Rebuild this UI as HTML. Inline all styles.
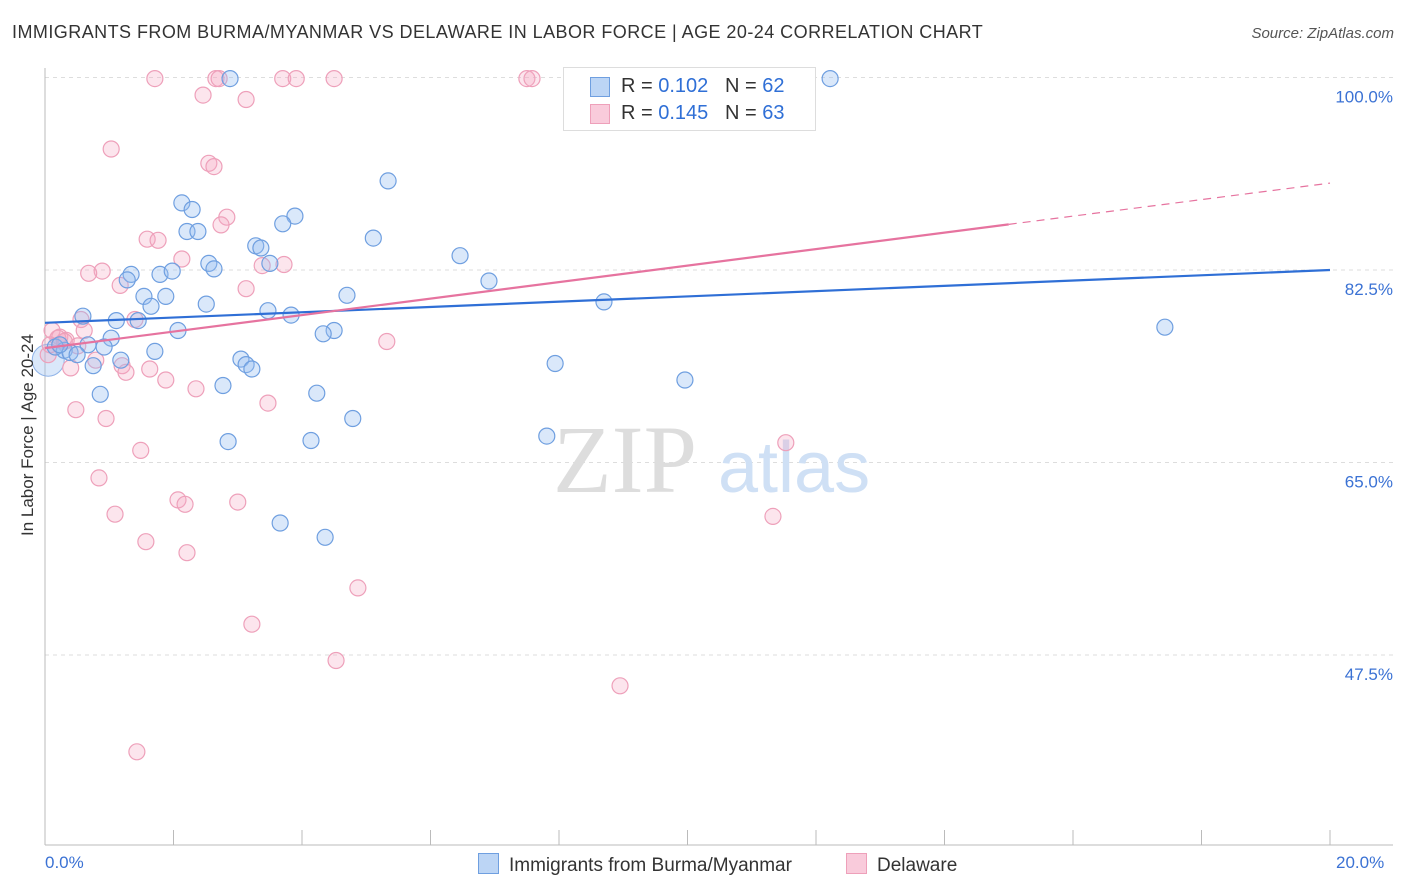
<!DOCTYPE html>
<html><head><meta charset="utf-8">
<style>
body{margin:0;background:#fff;font-family:"Liberation Sans",sans-serif;}
#wrap{position:relative;width:1406px;height:892px;overflow:hidden;}
.t{position:absolute;white-space:nowrap;}
</style></head>
<body>
<div id="wrap">
<div class="t" style="left:12px;top:22px;font-size:18px;letter-spacing:0.45px;color:#333;">IMMIGRANTS FROM BURMA/MYANMAR VS DELAWARE IN LABOR FORCE | AGE 20-24 CORRELATION CHART</div>
<div class="t" style="right:12px;top:25px;font-size:15px;color:#555;font-style:italic;">Source: ZipAtlas.com</div>
<svg id="svg" width="1406" height="892" style="position:absolute;left:0;top:0"></svg>
</div>
<script>
const blueX=[12.22,2.88,5.34,2.13,2.29,3.89,3.70,2.21,2.38,5.11,3.28,3.36,6.46,3.50,2.55,2.63,1.34,1.79,1.98,1.28,6.91,1.54,1.88,4.70,8.70,2.51,1.65,3.47,3.83,0.59,1.11,1.45,2.07,4.50,4.33,1.03,17.43,0.67,0.92,0.30,0.39,0.50,1.71,3.05,1.18,3.13,3.22,0.75,7.94,9.96,2.77,0.86,4.23,4.79,7.81,2.85,4.14,3.66,4.36,0.16,0.23];
const blueY=[99.9,99.9,90.6,88.6,88.0,87.4,86.7,86.0,86.0,85.4,84.7,84.5,83.8,83.1,83.1,82.6,82.1,82.1,82.4,81.6,81.5,80.1,80.1,80.2,79.6,79.4,79.2,78.8,78.4,78.3,77.9,77.9,77.0,77.0,76.7,76.3,77.3,75.7,75.5,75.2,75.0,74.8,75.1,74.4,74.3,73.9,73.5,73.8,74.0,72.5,72.0,71.2,71.3,69.0,67.4,66.9,67.0,59.5,58.2,75.5,75.7];
const pinkX=[1.71,2.66,2.71,3.70,3.91,4.50,7.50,7.58,2.46,3.13,1.03,2.55,2.63,2.83,2.74,1.59,1.76,2.13,3.72,3.38,0.89,0.68,1.17,3.13,1.40,0.56,0.61,0.11,0.23,0.33,5.32,0.51,0.79,1.20,1.26,1.63,0.40,1.88,2.35,0.05,0.48,0.95,3.47,1.49,11.53,0.84,2.07,2.18,3.00,1.09,11.33,1.57,2.21,4.87,3.22,4.53,8.95,1.43,0.20,0.08,0.30];
const pinkY=[99.9,99.9,99.9,99.9,99.9,99.9,99.9,99.9,98.4,98.0,93.5,92.2,91.9,87.3,86.6,85.3,85.2,83.5,83.0,82.9,82.4,82.2,81.1,80.8,78.0,78.0,77.0,77.0,76.4,76.1,76.0,75.6,74.3,73.8,73.2,73.5,73.6,72.5,71.7,74.8,69.8,69.0,70.4,66.1,66.8,63.6,61.6,61.2,61.4,60.3,60.1,57.8,56.8,53.6,50.3,47.0,44.7,38.7,76.3,75.7,76.0];
const bigBubble=[0.05,74.3];
const blueTrend=[77.7,82.5];   // y at x=0, x=20
const pinkTrend=[75.4,90.4];   // y at x=0, x=20
const pinkSolidEnd=15.0;
const yTicks=[100,82.5,65,47.5];
const yTickLabels=["100.0%","82.5%","65.0%","47.5%"];
const xTicks=[0,2,4,6,8,10,12,14,16,18,20];

const NS="http://www.w3.org/2000/svg";
const svg=document.getElementById('svg');
const X=v=>45+v*64.25;
const Y=v=>77.5+(100-v)*11;
function el(tag,attrs,parent){const e=document.createElementNS(NS,tag);for(const k in attrs)e.setAttribute(k,attrs[k]);(parent||svg).appendChild(e);return e;}

yTicks.forEach((v,i)=>{
 const g=el('line',{x1:45,x2:1393,y1:Y(v),y2:Y(v),stroke:'#ddd','stroke-dasharray':'4,4'});
 
 
 const t=el('text',{x:1393,y:Y(v)+25,'text-anchor':'end','font-size':17,fill:'#3b72d4','font-family':'Liberation Sans, sans-serif'});
 t.textContent=yTickLabels[i];
 
 
});
const ya=el('line',{x1:45,x2:45,y1:68,y2:845,stroke:'#bbb'});


const xa=el('line',{x1:45,x2:1393,y1:845,y2:845,stroke:'#bbb'});


xTicks.forEach(v=>{
 const t=el('line',{x1:X(v),x2:X(v),y1:830,y2:845,stroke:'#bbb'});
 
 
});
const wm=el('text',{x:553,y:492,'font-size':96,fill:'#ddd','font-family':'Liberation Serif, serif'});wm.textContent='ZIP';


const wm2=el('text',{x:718,y:492,'font-size':72,fill:'#cfe0f5','font-family':'Liberation Sans, sans-serif'});wm2.textContent='atlas';



const bb=el('circle',{cx:X(bigBubble[0]),cy:Y(bigBubble[1]),r:16,fill:'rgba(150,190,240,0.35)',stroke:'#8fb3e8','stroke-width':1});



function pts(xs,ys,fill,stroke,name){
 xs.forEach((x,i)=>{
  const c=el('circle',{cx:X(x),cy:Y(ys[i]),r:8,fill:fill,stroke:stroke,'stroke-width':1.2});
  
  
 });
}
pts(pinkX,pinkY,'rgba(245,170,195,0.3)','#eea0ba','delaware-point');
pts(blueX,blueY,'rgba(150,190,240,0.35)','#6f9fe0','burma-point');

const bt=el('line',{x1:X(0),y1:Y(blueTrend[0]),x2:X(20),y2:Y(blueTrend[1]),stroke:'#2f6fd6','stroke-width':2.2});


const pAt=x=>pinkTrend[0]+(pinkTrend[1]-pinkTrend[0])*x/20;
const pt=el('line',{x1:X(0),y1:Y(pinkTrend[0]),x2:X(pinkSolidEnd),y2:Y(pAt(pinkSolidEnd)),stroke:'#e6739f','stroke-width':2.2});


const pd=el('line',{x1:X(pinkSolidEnd),y1:Y(pAt(pinkSolidEnd)),x2:X(20),y2:Y(pinkTrend[1]),stroke:'#e6739f','stroke-width':1.2,'stroke-dasharray':'8,6'});


</script>
<div class="t" style="left:-52px;top:446px;font-size:17px;color:#333;transform:rotate(-90deg);width:160px;text-align:center;">In Labor Force | Age 20-24</div>
<div class="t" style="left:45px;top:853px;font-size:17px;color:#3b72d4;">0.0%</div>
<div class="t" style="left:1336px;top:853px;font-size:17px;color:#3b72d4;">20.0%</div>
<div style="position:absolute;left:563px;top:67px;width:251px;height:62px;border:1px solid #ddd;background:#fff;font-size:20px;color:#333;">
 <div style="position:absolute;left:26px;top:9px;width:18px;height:18px;background:#bcd5f5;border:1px solid #6f9fe0;"></div>
 <div class="t" style="left:57px;top:7px;">R = <span style="color:#2f6fd6">0.102</span>&nbsp;&nbsp;&nbsp;N = <span style="color:#2f6fd6">62</span></div>
 <div style="position:absolute;left:26px;top:36px;width:18px;height:18px;background:#f9cbdb;border:1px solid #eea0ba;"></div>
 <div class="t" style="left:57px;top:34px;">R = <span style="color:#2f6fd6">0.145</span>&nbsp;&nbsp;&nbsp;N = <span style="color:#2f6fd6">63</span></div>
</div>
<div style="position:absolute;left:478px;top:853px;font-size:19px;color:#333;">
 <span style="display:inline-block;width:19px;height:19px;background:#bcd5f5;border:1px solid #6f9fe0;vertical-align:-3px;margin-right:10px;"></span>Immigrants from Burma/Myanmar</div>
<div style="position:absolute;left:846px;top:853px;font-size:19px;color:#333;">
 <span style="display:inline-block;width:19px;height:19px;background:#f9cbdb;border:1px solid #eea0ba;vertical-align:-3px;margin-right:10px;"></span>Delaware</div>
</body></html>
